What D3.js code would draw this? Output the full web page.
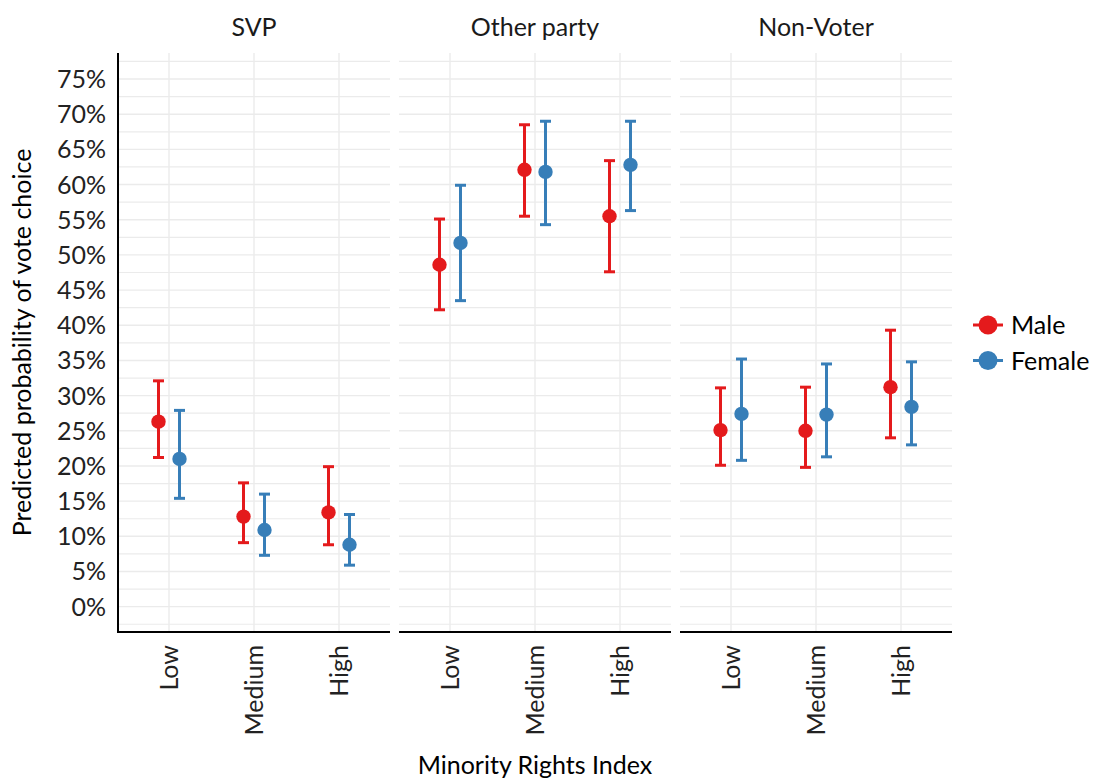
<!DOCTYPE html>
<html>
<head>
<meta charset="utf-8">
<script src="https://cdn.jsdelivr.net/npm/d3@7"></script>
<style>
  body { margin: 0; background: #fff; }
  text { font-family: Lato, 'Open Sans', sans-serif; }
</style>
</head>
<body>
<svg id="chart" width="1094" height="778"></svg>
<script>
// facets, categories and groups
var parties = ['SVP', 'Other party', 'Non-Voter']
var levels = ['Low', 'Medium', 'High']
var sexes = ['Male', 'Female']
var colors = ['#E41A1C', '#377EB8']

// predicted probabilities in %, ordered SVP Low/Medium/High, Other party ..., Non-Voter ...
var maleEst = [26.3, 12.8, 13.4, 48.6, 62.1, 55.5, 25.1, 25.0, 31.2]
var maleLower = [21.2, 9.1, 8.8, 42.2, 55.5, 47.6, 20.1, 19.8, 24.0]
var maleUpper = [32.1, 17.6, 19.9, 55.1, 68.5, 63.4, 31.1, 31.2, 39.3]
var femaleEst = [21.0, 10.9, 8.8, 51.7, 61.8, 62.8, 27.4, 27.3, 28.4]
var femaleLower = [15.4, 7.3, 5.9, 43.5, 54.3, 56.3, 20.8, 21.3, 23.0]
var femaleUpper = [27.9, 16.0, 13.1, 59.9, 69.0, 69.0, 35.2, 34.5, 34.8]

var yTicks = [0, 5, 10, 15, 20, 25, 30, 35, 40, 45, 50, 55, 60, 65, 70, 75]
var yMinor = [-2.5, 2.5, 7.5, 12.5, 17.5, 22.5, 27.5, 32.5, 37.5, 42.5, 47.5, 52.5, 57.5, 62.5, 67.5, 72.5, 77.5]

// build rows from the arrays
var rows = []
parties.forEach(function(p, pi) {
  levels.forEach(function(l, li) {
    var i = pi * 3 + li
    rows.push({ party: p, level: l, sex: 'Male', est: maleEst[i], lo: maleLower[i], hi: maleUpper[i] })
    rows.push({ party: p, level: l, sex: 'Female', est: femaleEst[i], lo: femaleLower[i], hi: femaleUpper[i] })
  })
})

// layout
var fs = 25
var plotLeft = 118, plotRight = 952, plotTop = 53, plotBottom = 632
var gap = 9
var panelW = (plotRight - plotLeft - 2 * gap) / 3

var svg = d3.select('#chart')

var y = d3.scaleLinear().domain([-3.6, 78.7]).range([plotBottom, plotTop])
var x = d3.scalePoint().domain(levels).range([0, panelW]).padding(0.6)
var dodge = d3.scalePoint().domain(sexes).range([-10.5, 10.5])
var color = d3.scaleOrdinal().domain(sexes).range(colors)

parties.forEach(function(p, pi) {
  var x0 = plotLeft + pi * (panelW + gap)
  var g = svg.append('g').attr('transform', 'translate(' + x0 + ',0)')

  // grid
  g.selectAll('.minor')
    .data(yMinor)
    .enter()
    .append('line')
    .attr('x1', 0).attr('x2', panelW)
    .attr('y1', function(d) { return y(d) }).attr('y2', function(d) { return y(d) })
    .attr('stroke', '#ebebeb').attr('stroke-width', 1.2)
  g.selectAll('.major')
    .data(yTicks)
    .enter()
    .append('line')
    .attr('x1', 0).attr('x2', panelW)
    .attr('y1', function(d) { return y(d) }).attr('y2', function(d) { return y(d) })
    .attr('stroke', '#ebebeb').attr('stroke-width', 1.4)
  g.selectAll('.vgrid')
    .data(levels)
    .enter()
    .append('line')
    .attr('x1', function(d) { return x(d) }).attr('x2', function(d) { return x(d) })
    .attr('y1', plotTop).attr('y2', plotBottom)
    .attr('stroke', '#ebebeb').attr('stroke-width', 1.4)

  // x axis line
  g.append('line')
    .attr('x1', 0).attr('x2', panelW)
    .attr('y1', plotBottom).attr('y2', plotBottom)
    .attr('stroke', '#000').attr('stroke-width', 2)

  // strip title
  g.append('text')
    .attr('x', panelW / 2).attr('y', 36)
    .attr('text-anchor', 'middle')
    .attr('font-size', fs)
    .attr('fill', '#1a1a1a')
    .text(p)

  // x tick labels
  g.selectAll('.xlab')
    .data(levels)
    .enter()
    .append('text')
    .attr('transform', function(d) { return 'translate(' + (x(d) + 8.5) + ',' + 645 + ') rotate(-90)' })
    .attr('text-anchor', 'end')
    .attr('font-size', fs)
    .attr('fill', '#222')
    .text(function(d) { return d })

  var pr = rows.filter(function(r) { return r.party == p })
  var cx = function(r) { return x(r.level) + dodge(r.sex) }

  // error bars
  var eb = g.selectAll('.eb').data(pr).enter().append('g')
    .attr('stroke', function(r) { return color(r.sex) })
    .attr('stroke-width', 3)
  eb.append('line')
    .attr('x1', cx).attr('x2', cx)
    .attr('y1', function(r) { return y(r.lo) }).attr('y2', function(r) { return y(r.hi) })
  eb.append('line')
    .attr('x1', function(r) { return cx(r) - 5.5 }).attr('x2', function(r) { return cx(r) + 5.5 })
    .attr('y1', function(r) { return y(r.lo) }).attr('y2', function(r) { return y(r.lo) })
  eb.append('line')
    .attr('x1', function(r) { return cx(r) - 5.5 }).attr('x2', function(r) { return cx(r) + 5.5 })
    .attr('y1', function(r) { return y(r.hi) }).attr('y2', function(r) { return y(r.hi) })

  // points
  g.selectAll('.pt').data(pr).enter().append('circle')
    .attr('cx', cx)
    .attr('cy', function(r) { return y(r.est) })
    .attr('r', 7.2)
    .attr('fill', function(r) { return color(r.sex) })
})

// y axis
svg.append('line')
  .attr('x1', plotLeft).attr('x2', plotLeft)
  .attr('y1', plotTop).attr('y2', plotBottom + 1)
  .attr('stroke', '#000').attr('stroke-width', 2)

svg.selectAll('.ylab')
  .data(yTicks)
  .enter()
  .append('text')
  .attr('x', 106)
  .attr('y', function(d) { return y(d) })
  .attr('dy', '0.36em')
  .attr('text-anchor', 'end')
  .attr('font-size', fs)
  .attr('fill', '#222')
  .text(function(d) { return d + '%' })

// axis titles
svg.append('text')
  .attr('transform', 'translate(31,' + (plotTop + plotBottom) / 2 + ') rotate(-90)')
  .attr('text-anchor', 'middle')
  .attr('font-size', fs)
  .attr('fill', '#000')
  .text('Predicted probability of vote choice')

svg.append('text')
  .attr('x', (plotLeft + plotRight) / 2).attr('y', 774)
  .attr('text-anchor', 'middle')
  .attr('font-size', fs)
  .attr('fill', '#000')
  .text('Minority Rights Index')

// legend
var legend = svg.selectAll('.leg')
  .data(sexes)
  .enter()
  .append('g')
  .attr('transform', function(d, i) { return 'translate(988,' + (325 + i * 35.5) + ')' })
legend.append('line')
  .attr('x1', -15).attr('x2', 15)
  .attr('stroke', function(d) { return color(d) })
  .attr('stroke-width', 3)
legend.append('circle')
  .attr('r', 9.5)
  .attr('fill', function(d) { return color(d) })
legend.append('text')
  .attr('x', 23).attr('dy', '0.36em')
  .attr('font-size', fs)
  .attr('fill', '#000')
  .text(function(d) { return d })
</script>
</body>
</html>
